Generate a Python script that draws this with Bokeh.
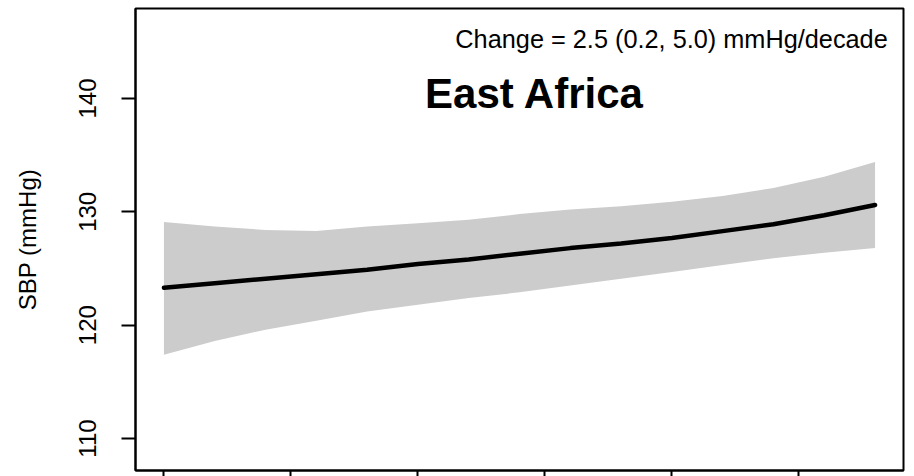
from bokeh.plotting import figure
from bokeh.models import FixedTicker, Range1d, Label, ColumnDataSource, CustomLabelingPolicy
from bokeh.embed import file_html
from bokeh.resources import INLINE

# ---- data ----
years = [1980, 1982, 1984, 1986, 1988, 1990, 1992, 1994, 1996, 1998, 2000, 2002, 2004, 2006, 2008]
sbp_mean = [123.3, 123.7, 124.1, 124.5, 124.9, 125.4, 125.8, 126.3, 126.8, 127.2, 127.7, 128.3, 128.9, 129.7, 130.6]
sbp_upper = [129.1, 128.7, 128.4, 128.3, 128.7, 129.0, 129.3, 129.8, 130.2, 130.5, 130.9, 131.4, 132.1, 133.1, 134.4]
sbp_lower = [117.4, 118.6, 119.6, 120.4, 121.2, 121.8, 122.4, 122.9, 123.5, 124.1, 124.7, 125.3, 125.9, 126.4, 126.8]
x_ticks = [1980, 1985, 1990, 1995, 2000, 2005]
y_ticks = [110, 120, 130, 140]
region = "East Africa"
change_text = "Change = 2.5 (0.2, 5.0) mmHg/decade"
y_label = "SBP (mmHg)"

FONT = "Liberation Sans"

p = figure(width=906, height=476, output_backend="svg", toolbar_location=None,
           x_range=Range1d(1978.88, 2009.12), y_range=Range1d(107.18, 147.94),
           min_border_left=135, min_border_right=3, min_border_top=8, min_border_bottom=0)

src = ColumnDataSource(dict(x=years, mean=sbp_mean, lo=sbp_lower, hi=sbp_upper))
p.varea(x="x", y1="lo", y2="hi", source=src, fill_color="#cccccc", fill_alpha=1.0)
p.line(x="x", y="mean", source=src, line_color="black", line_width=4.5, line_cap="round")

p.grid.visible = False
p.outline_line_color = "black"
p.outline_line_width = 2
p.outline_line_alpha = 1.0
p.background_fill_color = "white"
p.border_fill_color = "white"

# y axis
ya = p.yaxis[0]
ya.ticker = FixedTicker(ticks=y_ticks)
ya.minor_tick_line_color = None
ya.major_tick_out = 14
ya.major_tick_in = 0
ya.major_tick_line_width = 2
ya.axis_line_width = 2
ya.major_label_orientation = "vertical"
ya.major_label_standoff = 25
ya.major_label_text_font = FONT
ya.major_label_text_font_size = "24px"
ya.major_label_text_color = "black"
ya.axis_label = y_label
ya.axis_label_text_font = FONT
ya.axis_label_text_font_size = "24px"
ya.axis_label_text_font_style = "normal"
ya.axis_label_text_color = "black"
ya.axis_label_standoff = 36

# x axis: only the ticks are visible in the (cropped) reference
xa = p.xaxis[0]
xa.ticker = FixedTicker(ticks=x_ticks)
xa.minor_tick_line_color = None
xa.major_tick_out = 6
xa.major_tick_in = 0
xa.major_tick_line_width = 2
xa.axis_line_width = 2
xa.major_label_standoff = 0
xa.major_label_text_font_size = "0px"
xa.axis_label_standoff = 0
xa.major_label_policy = CustomLabelingPolicy(code="""
    const arr = [...indices];
    for (const i of arr) indices.unset(i);
    return indices;
""")

p.add_layout(Label(x=1994.6, y=140.4, text=region, text_font=FONT, text_font_size="42px",
                   text_font_style="bold", text_align="center", text_baseline="alphabetic",
                   text_color="black"))
p.add_layout(Label(x=2008.5, y=145.25, text=change_text, text_font=FONT, text_font_size="25.3px",
                   text_align="right", text_baseline="alphabetic", text_color="black"))

open("out.html", "w").write(file_html(p, INLINE))
